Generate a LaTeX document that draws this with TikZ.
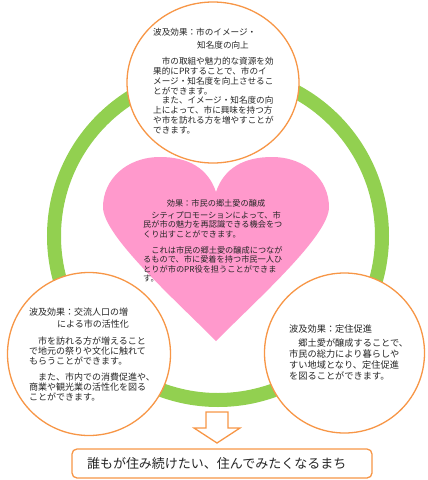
\documentclass[tikz,border=0pt]{standalone}
\usepackage{fontspec}
\setmainfont{Noto Sans CJK JP}
\usetikzlibrary{positioning,shapes.geometric}
\definecolor{orn}{HTML}{F79646}
\definecolor{grn}{HTML}{92D050}
\definecolor{pnk}{HTML}{FF99CC}
\definecolor{ink}{HTML}{262626}
\newcommand{\fsz}[2]{\fontsize{#1}{#2}\selectfont}
\tikzset{
  bub/.style={draw=orn,line width=1.3pt,fill=white,inner sep=0pt},
  txt/.style={anchor=north west,align=left,inner sep=0pt,text=ink},
  toptxt/.style={txt,font=\fsz{8.6}{10.1}},
  hrttxt/.style={txt,font=\fsz{8.2}{9.5}},
  lfttxt/.style={txt,font=\fsz{9}{10.1}},
  rgttxt/.style={txt,font=\fsz{9.2}{11}},
  goalbox/.style={draw=orn,line width=1.3pt,rounded corners=5pt,fill=white,align=left,text=ink,font=\fsz{13}{15}},
}
\begin{document}
\begin{tikzpicture}[x=1pt,y=-1pt]
\useasboundingbox (0,0) rectangle (428,480);
\draw[grn,line width=14pt] (218,236) circle[radius=164pt];
\fill[pnk] (216,192) .. controls (208,168) and (188,157) .. (160,157)
  .. controls (126,157) and (103,180) .. (103,207)
  .. controls (103,235) and (170,295) .. (216,341)
  .. controls (262,295) and (329,235) .. (329,207)
  .. controls (329,180) and (306,157) .. (272,157)
  .. controls (244,157) and (224,168) .. (216,192) -- cycle;
\node[bub,ellipse,minimum width=172pt,minimum height=161pt] (top) at (213,82.5) {};
\node[bub,circle,minimum size=163pt] (lft) at (89,354) {};
\node[bub,circle,minimum size=160pt] (rgt) at (344.5,353) {};
\node[toptxt] (topt1) at (153,27.7) {波及効果：市のイメージ・};
\node[toptxt] (topt2) at (197,40.7) {知名度の向上};
\node[toptxt] (topa) at (153,56.7) {　市の取組や魅力的な資源を効\\果的にPRすることで、市のイ\\メージ・知名度を向上させるこ\\とができます。};
\node[toptxt] (topb) at (153,95.7) {　また、イメージ・知名度の向\\上によって、市に興味を持つ方\\や市を訪れる方を増やすことが\\できます。};
\node[hrttxt,anchor=center] (hrtt) at (216,203) {効果：市民の郷土愛の醸成};
\node[hrttxt] (hrta) at (143,210.9) {　シティプロモーションによって、市\\民が市の魅力を再認識できる機会をつ\\くり出すことができます。};
\node[hrttxt] (hrtb) at (143,245.9) {　これは市民の郷土愛の醸成につなが\\るもので、市に愛着を持つ市民一人ひ\\とりが市のPR役を担うことができま\\す。};
\node[lfttxt] (lftt1) at (29,307.5) {波及効果：交流人口の増};
\node[lfttxt] (lftt2) at (57,319.5) {による市の活性化};
\node[lfttxt] (lfta) at (29,336.5) {　市を訪れる方が増えること\\で地元の祭りや文化に触れて\\もらうことができます。};
\node[lfttxt] (lftb) at (29,372.5) {　また、市内での消費促進や、\\商業や観光業の活性化を図る\\ことができます。};
\node[rgttxt] (rgtt) at (289,324.4) {波及効果：定住促進};
\node[rgttxt] (rgta) at (289,338.4) {　郷土愛が醸成することで、\\市民の総力により暮らしや\\すい地域となり、定住促進\\を図ることができます。};
\draw[orn,line width=1.3pt,fill=white,line join=miter] (206,412) -- (228,412) -- (228,428) -- (240,428) -- (217,443) -- (194,428) -- (206,428) -- cycle;
\node[goalbox,minimum height=29pt,text width=270pt,inner xsep=15pt] (goal) at (222,463.5) {誰もが住み続けたい、住んでみたくなるまち};
\end{tikzpicture}
\end{document}
